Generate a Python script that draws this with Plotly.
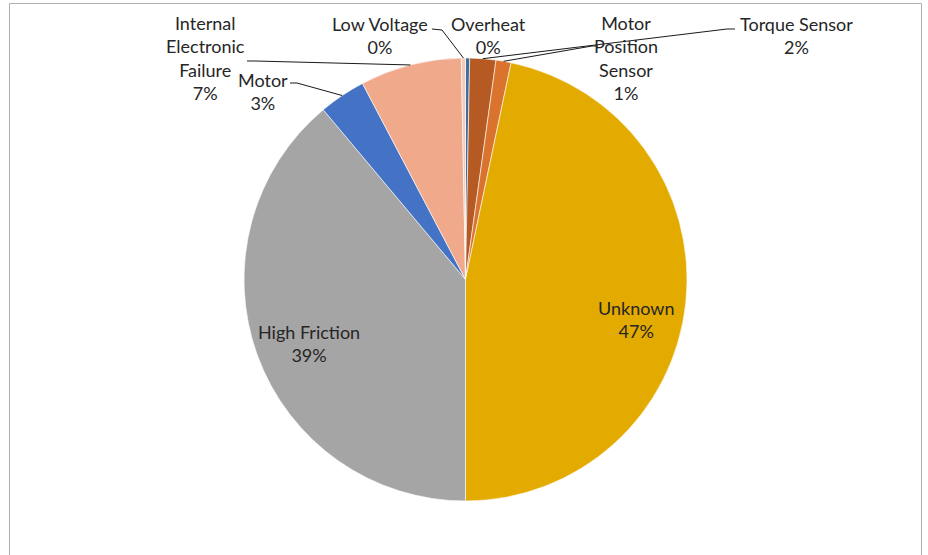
import math
import plotly.graph_objects as go

# ---- data (clockwise from 12 o'clock) ----
labels = ["Overheat", "Torque Sensor", "Motor Position Sensor", "Unknown",
          "High Friction", "Motor", "Internal Electronic Failure", "Low Voltage"]
values = [0.3, 1.9, 1.1, 46.7, 38.9, 3.4, 7.4, 0.3]
colors = ["#3B6EA5", "#B45A22", "#D9732E", "#E3AA00",
          "#A5A5A5", "#4472C4", "#F0A98B", "#F5C9B6"]
label_text = ["Overheat", "Torque Sensor", "Motor<br>Position<br>Sensor", "Unknown",
              "High Friction", "Motor", "Internal<br>Electronic<br>Failure", "Low Voltage"]

W, H = 928, 555
OFF = 0  # page body margin (removed below)
CX, CY, R = 465.5, 279.5, 221.5

# label block centres (screen pixels) and leader-line start points (screen pixels)
label_pos = {
    "Overheat": (488, 35),
    "Torque Sensor": (796, 35),
    "Motor Position Sensor": (626, 58),
    "Unknown": (636, 319),
    "High Friction": (309, 343),
    "Motor": (263, 91),
    "Internal Electronic Failure": (205, 58),
    "Low Voltage": (380, 35),
}
leader_start = {
    "Torque Sensor": [(735, 29), (727, 29)],
    "Motor Position Sensor": [(598, 46), (592, 46)],
    "Motor": [(290, 83), (297, 83)],
    "Internal Electronic Failure": [(247, 61), (255, 61)],
    "Low Voltage": [(432, 29), (442, 30)],
}


def px(x):
    return (x - OFF) / W


def py(y):
    return 1 - (y - OFF) / H


fig = go.Figure()
fig.add_trace(go.Pie(
    labels=labels, values=values, sort=False, direction="clockwise", rotation=0,
    marker=dict(colors=colors, line=dict(color="white", width=0.6)),
    textinfo="none", hoverinfo="label+percent", showlegend=False,
    domain=dict(x=[px(CX - R), px(CX + R)], y=[py(CY + R), py(CY - R)]),
))

total = sum(values)
cum = 0.0
shapes = []
annotations = []
font = dict(family="Lato, 'Open Sans', sans-serif", size=18, color="#262626")
for lab, txt, v in zip(labels, label_text, values):
    mid = (cum + v / 2) / total * 2 * math.pi
    cum += v
    ex = CX + R * math.sin(mid)
    ey = CY - R * math.cos(mid)
    pct = round(v / total * 100)
    lx, ly = label_pos[lab]
    annotations.append(dict(x=px(lx), y=py(ly), xref="paper", yref="paper",
                            text=f"{txt}<br>{pct}%", showarrow=False,
                            xanchor="center", yanchor="middle", font=font))
    if lab in leader_start:
        pts = leader_start[lab] + [(ex, ey)]
        path = "M " + " L ".join(f"{px(x)},{py(y)}" for x, y in pts)
        shapes.append(dict(type="path", path=path, xref="paper", yref="paper",
                           line=dict(color="#1a1a1a", width=1)))

# chart frame (left, top, right)
frame_color = "#b0b0b0"
for (x0, y0, x1, y1) in [(9.5, 3.5, 9.5, 560), (9.5, 3.5, 921.5, 3.5), (921.5, 3.5, 921.5, 560)]:
    shapes.append(dict(type="line", x0=px(x0), y0=py(y0), x1=px(x1), y1=py(y1),
                       xref="paper", yref="paper", line=dict(color=frame_color, width=1)))

fig.update_layout(
    width=W, height=H, margin=dict(l=0, r=0, t=0, b=0),
    paper_bgcolor="white", plot_bgcolor="white",
    shapes=shapes, annotations=annotations,
)
fig.write_html("out.html", config={"displayModeBar": False},
               post_script="document.body.style.margin='0';document.body.style.overflow='hidden';")
